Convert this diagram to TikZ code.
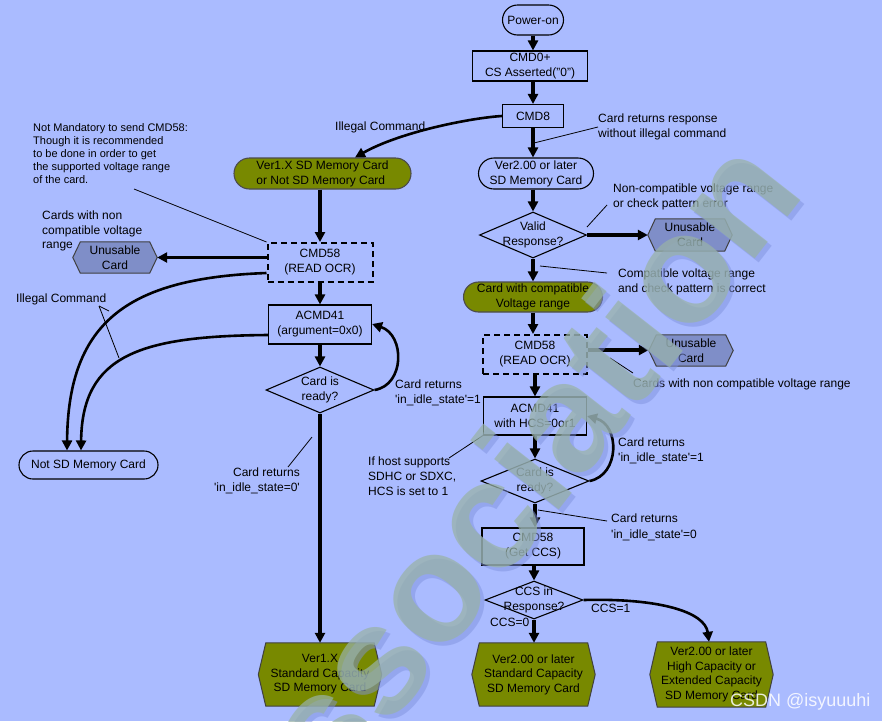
\documentclass[tikz,border=0pt]{standalone}
\usepackage{fontspec}
\setmainfont{Liberation Sans}
\usetikzlibrary{shapes.geometric,shapes.misc,arrows.meta}
\definecolor{bgc}{RGB}{170,187,255}
\definecolor{oliv}{RGB}{120,137,0}
\definecolor{slate}{RGB}{127,142,200}
\definecolor{wmc}{RGB}{152,178,166}
\definecolor{wms}{RGB}{128,146,222}
\pgfdeclarelayer{bottom}\pgfdeclarelayer{back}\pgfsetlayers{bottom,back,main}
\newcommand\qs{\textquotesingle}
\tikzset{
 base/.style={font=\fontsize{12}{15}\selectfont, align=center, inner sep=0pt},
 box/.style={base, rectangle, draw, line width=1.1pt},
 dbox/.style={box, line width=2pt, dash pattern=on 6pt off 4pt},
 term/.style={base, rounded rectangle, draw, line width=1.1pt},
 oterm/.style={term, fill=oliv, draw=black!70},
 dia/.style={diamond, draw, line width=1.1pt, inner sep=0pt},
 hexa/.style={base, rectangle, draw=none},
 big/.style={font=\fontsize{12}{14.5}\selectfont},
 note/.style={font=\fontsize{12}{14.5}\selectfont, align=left, inner sep=0pt, anchor=north west},
 arr/.style={line width=3.2pt, -{Triangle[length=10pt,width=10pt]}},
 carr/.style={line width=2.6pt, -{Triangle[length=10pt,width=10pt]}},
 lead/.style={line width=0.8pt},
 hexline/.style={line width=1pt, draw=black!75},
 wmark/.style={rotate=52, font=\fontsize{155}{155}\selectfont\bfseries, inner sep=0pt},
}
\newcommand\hexback[2]{%
  \draw[hexline, fill=#2] (#1.west) -- ([xshift=7.5pt]#1.north west) -- ([xshift=-7.5pt]#1.north east)
   -- (#1.east) -- ([xshift=-7.5pt]#1.south east) -- ([xshift=7.5pt]#1.south west) -- cycle;}
\begin{document}
\begin{tikzpicture}[x=1pt,y=-1pt]
\path[use as bounding box] (0,0) rectangle (882,721);
\begin{pgfonlayer}{bottom}
\fill[bgc] (0,0) rectangle (882,721);
\end{pgfonlayer}

% ---- right column ----
\node[term, minimum width=61, minimum height=30] (pwr) at (533,20) {Power-on};
\node[box, minimum width=115, minimum height=30] (cmd0) at (530,66) {CMD0+\\CS Asserted("0")};
\node[box, minimum width=61, minimum height=23] (cmd8) at (533,116) {CMD8};
\node[term, minimum width=115, minimum height=31] (ver2) at (536,173.5) {Ver2.00 or later\\SD Memory Card};
\node[dia, minimum width=107, minimum height=46] (valid) at (533,235) {};
\node[base] (validt) at (533,235) {Valid\\Response?};
\node[hexa, minimum width=84, minimum height=32] (unus1) at (690,235) {Unusable\\Card};
\node[oterm, minimum width=139, minimum height=30] (compat) at (533,297) {Card with compatible\\Voltage range};
\node[dbox, minimum width=104, minimum height=39] (cmd58r) at (535,354.5) {CMD58\\(READ OCR)};
\node[hexa, minimum width=84, minimum height=31] (unus2) at (691,350.5) {Unusable\\Card};
\node[box, minimum width=103, minimum height=38] (acmdr) at (535,416) {ACMD41\\with HCS=0or1};
\node[dia, minimum width=108, minimum height=44] (readyr) at (535,481) {};
\node[base] (readyrt) at (535,481) {Card is\\ready?};
\node[box, minimum width=102, minimum height=37] (getccs) at (533,546.5) {CMD58\\(Get CCS)};
\node[dia, minimum width=98, minimum height=38] (ccs) at (534,600) {};
\node[base] (ccst) at (534,600) {CCS in\\Response?};
\node[hexa, big, minimum width=123, minimum height=63] (std2) at (533.5,674.5) {Ver2.00 or later\\Standard Capacity\\SD Memory Card};
\node[hexa, big, minimum width=123, minimum height=65] (high) at (711.5,674.5) {Ver2.00 or later\\High Capacity or\\Extended Capacity\\SD Memory Card};

% ---- left column ----
\node[oterm, minimum width=177, minimum height=31, align=left] (ver1) at (322.5,173.5) {Ver1.X SD Memory Card\\or Not SD Memory Card};
\node[dbox, minimum width=105, minimum height=39] (cmd58l) at (320,262.5) {CMD58\\(READ OCR)};
\node[box, minimum width=103, minimum height=39] (acmdl) at (320,324.5) {ACMD41\\(argument=0x0)};
\node[dia, minimum width=108, minimum height=46] (readyl) at (320,390) {};
\node[base] (readylt) at (320,390) {Card is\\ready?};
\node[hexa, big, minimum width=123, minimum height=63] (std1) at (320,674.5) {Ver1.X\\Standard Capacity\\SD Memory Card};
\node[hexa, minimum width=84, minimum height=31] (unusl) at (115,257.5) {Unusable\\Card};
\node[term, minimum width=139, minimum height=28] (notsd) at (88.5,465) {Not SD Memory Card};

\begin{pgfonlayer}{back}
\hexback{unusl}{slate}
\hexback{unus1}{slate}
\hexback{unus2}{slate}
\hexback{std1}{oliv}
\hexback{std2}{oliv}
\hexback{high}{oliv}
\end{pgfonlayer}

% ---- straight arrows ----
\draw[arr] (pwr.south) -- (pwr.south |- cmd0.north);
\draw[arr] (cmd8.south |- cmd0.south) -- (cmd8.north);
\draw[arr] (cmd8.south) -- (cmd8.south |- ver2.north);
\draw[arr] (valid.north |- ver2.south) -- (valid.north);
\draw[arr] (valid.south) -- (compat.north);
\draw[arr] (compat.south) -- (compat.south |- cmd58r.north);
\draw[arr] (acmdr.north |- cmd58r.south) -- (acmdr.north);
\draw[arr] (acmdr.south) -- (readyr.north);
\draw[arr] (readyr.south) -- (readyr.south |- getccs.north);
\draw[arr] (ccs.north |- getccs.south) -- (ccs.north);
\draw[arr] (ccs.south) -- (ccs.south |- std2.north);
\draw[arr] (valid.east) -- (unus1.west);
\draw[arr] ([yshift=4.5pt]cmd58r.east) -- ([yshift=4.5pt]cmd58r.east -| unus2.west);

\draw[arr] (cmd58l.north |- ver1.south) -- (cmd58l.north);
\draw[arr] (cmd58l.south) -- (acmdl.north);
\draw[arr] (acmdl.south) -- (readyl.north);
\draw[arr] (readyl.south) -- (std1.north);
\draw[arr] ([yshift=5pt]cmd58l.west) -- ([yshift=5pt]cmd58l.west -| unusl.east);

% ---- curved arrows ----
\draw[carr] (cmd8.west) .. controls (470,118) and (400,132) .. ([xshift=32.5pt]ver1.north);
\draw[carr] ([yshift=-10.5pt]cmd58l.west) .. controls (130,278) and (68,320) .. ([xshift=-21.5pt]notsd.north);
\draw[carr] ([yshift=-10.5pt]acmdl.west) .. controls (140,336) and (82,355) .. ([xshift=-7.5pt]notsd.north);
\draw[carr] (readyl.east) .. controls (405,385) and (405,335) .. ([yshift=0.5pt]acmdl.east);
\draw[carr] (readyr.east) .. controls (620,475) and (620,425) .. (acmdr.east);
\draw[carr] (ccs.east) .. controls (660,598) and (705,612) .. ([xshift=-2.5pt]high.north);

% ---- annotations ----
\node[note, font=\fontsize{11}{13}\selectfont] (nm) at (33,123) {Not Mandatory to send CMD58:\\Though it is recommended\\to be done in order to get\\the supported voltage range\\of the card.};
\node[note] (cnl) at (42,211) {Cards with non\\compatible voltage\\range};
\node[note] (ill1) at (335,122) {Illegal Command};
\node[note] (ill2) at (16,294) {Illegal Command};
\node[note] (cr1l) at (395,380) {Card returns\\\qs in\_idle\_state\qs=1};
\node[note, anchor=north east, align=right] (cr0l) at (300,468) {Card returns\\\qs in\_idle\_state=0\qs};
\node[note, font=\fontsize{12}{15}\selectfont] (hcs) at (368,457) {If host supports\\SDHC or SDXC,\\HCS is set to 1};
\node[note] (crr) at (598,114) {Card returns response\\without illegal command};
\node[note] (ncv) at (613,184) {Non-compatible voltage range\\or check pattern error};
\node[note] (cv) at (618,269) {Compatible voltage range\\and check pattern is correct};
\node[note] (cnr) at (633,379) {Cards with non compatible voltage range};
\node[note] (cr1r) at (618,438) {Card returns\\\qs in\_idle\_state\qs=1};
\node[note, font=\fontsize{12}{15.5}\selectfont] (cr0r) at (611,514) {Card returns\\\qs in\_idle\_state\qs=0};
\node[note] (ccs0) at (490,618) {CCS=0};
\node[note] (ccs1) at (591,604) {CCS=1};

% ---- leader lines ----
\draw[lead] (134,189) -- (cmd58l.north west);
\draw[lead] (99,306) -- (109,311);
\draw[lead] (99,306) -- (119,358);
\draw[lead] (288,467) -- (312,437);
\draw[lead] (449,458) -- (acmdr.south west);
\draw[lead] (598,127) -- (534,143);
\draw[lead] (607,205) -- (587,227);
\draw[lead] (607,273) -- (540,266);
\draw[lead] (633,373) -- (610,358);
\draw[lead] (607,521) -- (538,510);

% ---- watermarks ----
\node[wmark, text=wms, text opacity=0.5] (wmsh) at (531,465) {ssociation};
\node[wmark, text=wmc, text opacity=0.72] (wm) at (527,461) {ssociation};
\node[font=\fontsize{18}{18}\selectfont, text=white, text opacity=0.85, anchor=base west, inner sep=0pt] (csdn) at (730,706) {CSDN @isyuuuhi};
\end{tikzpicture}
\end{document}
